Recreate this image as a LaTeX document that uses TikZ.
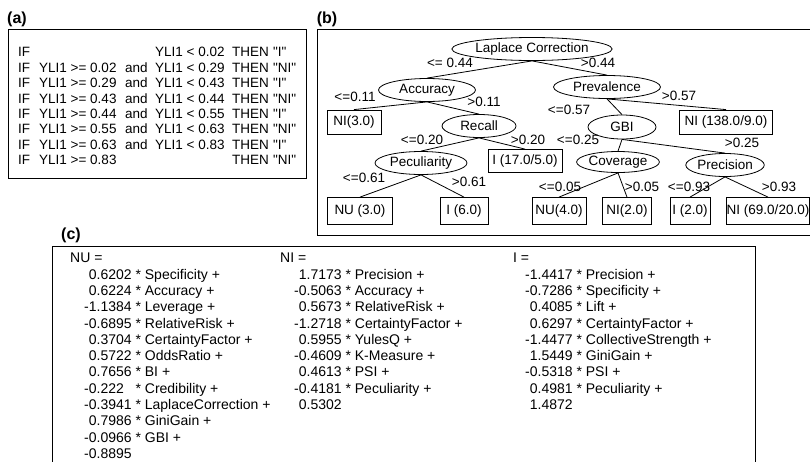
\documentclass[tikz,border=0pt]{standalone}
\usepackage{fontspec}
\setmainfont{Liberation Sans}
\newfontfamily\plainfont{Liberation Sans}
\usepackage{array}
\usetikzlibrary{shapes.geometric}
\setlength{\tabcolsep}{0pt}
\newcommand{\pos}{\phantom{-}}

\begin{document}
\begin{tikzpicture}[x=1pt, y=-1pt,
    every node/.style={font=\plainfont\fontsize{13.5}{15.4}\selectfont, inner sep=0pt},
    split/.style={ellipse, draw, line width=0.8pt, minimum height=23pt},
    leaf/.style={rectangle, draw, line width=0.8pt, minimum height=27pt},
    cond/.style={font=\plainfont\fontsize{13.5}{15}\selectfont},
    panel/.style={font=\plainfont\fontsize{16}{18}\selectfont\bfseries},
    coef/.style={anchor=north west, font=\plainfont\fontsize{14}{16.3}\selectfont},
    frame/.style={line width=0.9pt},
    branch/.style={line width=0.8pt}]
    \useasboundingbox (0,0) rectangle (810,461);

    % Panel frames
    \draw[frame] (8,29) rectangle (306,178);
    \draw[frame] (317,29) rectangle (812,235);
    \draw[frame] (52,246) rectangle (755,470);
    \node[panel] (pa) at (17,19) {(a)};
    \node[panel] (pb) at (327,19) {(b)};
    \node[panel] (pc) at (71,235) {(c)};

    % (a) rules
    \node[anchor=north west] (rules) at (18,45.9) {%
      \begin{tabular}{@{}p{21pt}p{86pt}p{30pt}p{77pt}p{41pt}l@{}}
      IF & & & YLI1 < 0.02 & THEN & "I"\\
      IF & YLI1 >= 0.02 & and & YLI1 < 0.29 & THEN & "NI"\\
      IF & YLI1 >= 0.29 & and & YLI1 < 0.43 & THEN & "I"\\
      IF & YLI1 >= 0.43 & and & YLI1 < 0.44 & THEN & "NI"\\
      IF & YLI1 >= 0.44 & and & YLI1 < 0.55 & THEN & "I"\\
      IF & YLI1 >= 0.55 & and & YLI1 < 0.63 & THEN & "NI"\\
      IF & YLI1 >= 0.63 & and & YLI1 < 0.83 & THEN & "I"\\
      IF & YLI1 >= 0.83 & & & THEN & "NI"
      \end{tabular}};

    % (b) decision tree
    \node[split, minimum width=155pt] (laplace) at (532,49) {Laplace Correction};
    \node[split, minimum width=97pt] (accuracy) at (427,90) {Accuracy};
    \node[split, minimum width=107pt] (prevalence) at (607,87) {Prevalence};
    \node[leaf, minimum width=54pt, minimum height=24pt] (ni30) at (354,122) {NI(3.0)};
    \node[split, minimum width=74pt] (recall) at (479,126) {Recall};
    \node[split, minimum width=68pt, minimum height=24pt] (gbi) at (622,127) {GBI};
    \node[leaf, minimum width=93pt, minimum height=24pt] (ni138) at (726,122) {NI (138.0/9.0)};
    \node[split, minimum width=92pt] (peculiarity) at (421,163) {Peculiarity};
    \node[leaf, minimum width=74pt, minimum height=23pt] (i17) at (525,161) {I (17.0/5.0)};
    \node[split, minimum width=80pt, minimum height=21pt] (coverage) at (618,162) {Coverage};
    \node[split, minimum width=74pt] (precision) at (725,165) {Precision};
    \node[leaf, minimum width=65pt] (nu30) at (360,211) {NU (3.0)};
    \node[leaf, minimum width=48pt] (i60) at (464,211) {I (6.0)};
    \node[leaf, minimum width=54pt] (nu40) at (559,211) {NU(4.0)};
    \node[leaf, minimum width=49pt] (ni20) at (627,211) {NI(2.0)};
    \node[leaf, minimum width=40pt] (i20) at (690,211) {I (2.0)};
    \node[leaf, minimum width=82pt] (ni69) at (768,211) {NI (69.0/20.0)};

    % Branches
    \draw[branch] (laplace.south) -- (accuracy.north);
    \draw[branch] (laplace.south) -- (prevalence.north);
    \draw[branch] (accuracy.south) -- (ni30.north);
    \draw[branch] (accuracy.south) -- (recall.north);
    \draw[branch] (prevalence.south) -- (gbi.north);
    \draw[branch] (prevalence.south) -- (ni138.north);
    \draw[branch] (recall.south) -- (peculiarity.north);
    \draw[branch] (recall.south) -- (i17.north);
    \draw[branch] (gbi.south) -- (coverage.north);
    \draw[branch] (gbi.south) -- (precision.north);
    \draw[branch] (peculiarity.south) -- (nu30.north);
    \draw[branch] (peculiarity.south) -- (i60.north);
    \draw[branch] (coverage.south) -- (nu40.north);
    \draw[branch] (coverage.south) -- (ni20.north);
    \draw[branch] (precision.south) -- (i20.north);
    \draw[branch] (precision.south) -- (ni69.north);

    % Split conditions
    \node[cond] (c044l) at (450,63) {<= 0.44};
    \node[cond] (c044g) at (598,63) {>0.44};
    \node[cond] (c011l) at (355,97) {<=0.11};
    \node[cond] (c011g) at (484,102) {>0.11};
    \node[cond] (c057l) at (569,110) {<=0.57};
    \node[cond] (c057g) at (679,96) {>0.57};
    \node[cond] (c020l) at (422,140) {<=0.20};
    \node[cond] (c020g) at (528,140) {>0.20};
    \node[cond] (c025l) at (578,140) {<=0.25};
    \node[cond] (c025g) at (742,143) {>0.25};
    \node[cond] (c061l) at (364,178) {<=0.61};
    \node[cond] (c061g) at (469,182) {>0.61};
    \node[cond] (c005l) at (560,187) {<=0.05};
    \node[cond] (c005g) at (642,187) {>0.05};
    \node[cond] (c093l) at (689,187) {<=0.93};
    \node[cond] (c093g) at (779,187) {>0.93};

    % (c) regression models
    \node[coef] (modnu) at (70,251.2) {%
      \begin{tabular}{@{\hspace{14pt}}l@{\ *\ }l@{}}
      \multicolumn{2}{@{}l}{NU =}\\
      \pos0.6202 & Specificity +\\
      \pos0.6224 & Accuracy +\\
      -1.1384 & Leverage +\\
      -0.6895 & RelativeRisk +\\
      \pos0.3704 & CertaintyFactor +\\
      \pos0.5722 & OddsRatio +\\
      \pos0.7656 & BI +\\
      -0.222 & Credibility +\\
      -0.3941 & LaplaceCorrection +\\
      \pos0.7986 & GiniGain +\\
      -0.0966 & GBI +\\
      \multicolumn{2}{@{\hspace{14pt}}l}{-0.8895}
      \end{tabular}};
    \node[coef] (modni) at (280,251.2) {%
      \begin{tabular}{@{\hspace{14pt}}l@{\ *\ }l@{}}
      \multicolumn{2}{@{}l}{NI =}\\
      \pos1.7173 & Precision +\\
      -0.5063 & Accuracy +\\
      \pos0.5673 & RelativeRisk +\\
      -1.2718 & CertaintyFactor +\\
      \pos0.5955 & YulesQ +\\
      -0.4609 & K-Measure +\\
      \pos0.4613 & PSI +\\
      -0.4181 & Peculiarity +\\
      \multicolumn{2}{@{\hspace{14pt}}l}{\pos0.5302}
      \end{tabular}};
    \node[coef] (modi) at (513,251.2) {%
      \begin{tabular}{@{\hspace{12pt}}l@{\ *\ }l@{}}
      \multicolumn{2}{@{}l}{I =}\\
      -1.4417 & Precision +\\
      -0.7286 & Specificity +\\
      \pos0.4085 & Lift +\\
      \pos0.6297 & CertaintyFactor +\\
      -1.4477 & CollectiveStrength +\\
      \pos1.5449 & GiniGain +\\
      -0.5318 & PSI +\\
      \pos0.4981 & Peculiarity +\\
      \multicolumn{2}{@{\hspace{12pt}}l}{\pos1.4872}
      \end{tabular}};
\end{tikzpicture}
\end{document}
